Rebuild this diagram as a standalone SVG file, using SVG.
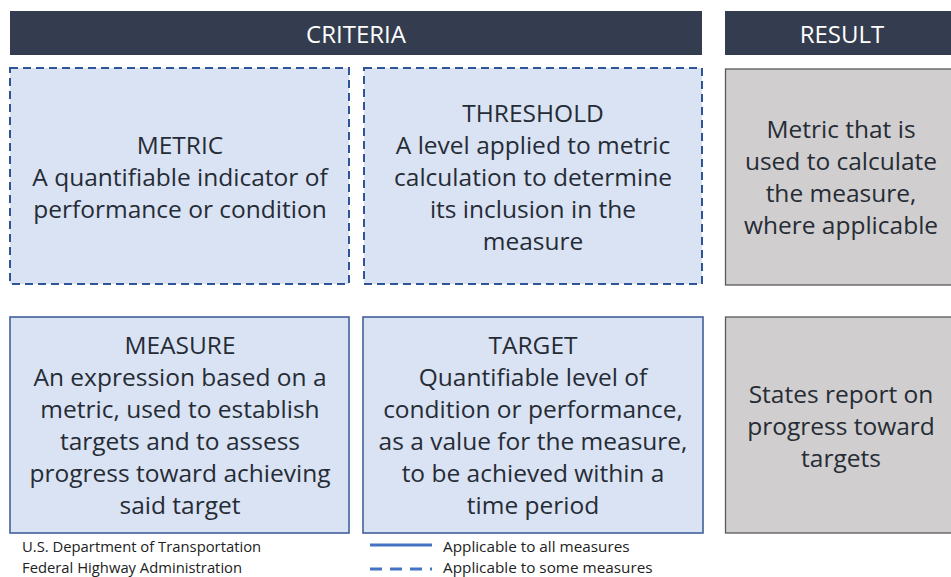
<svg xmlns="http://www.w3.org/2000/svg" width="951" height="577" viewBox="0 0 951 577">
<style>
.hdr{fill:#343d4f}
.htxt{font-family:"Open Sans",sans-serif;font-size:24px;fill:#ffffff;text-anchor:middle}
.box{fill:#dae3f3;stroke:#2f5597;stroke-width:2}
.dash{stroke-dasharray:8,5}
.solid{stroke:#41609c;stroke-width:1.6}
.res{fill:#d0cece;stroke:#595959;stroke-width:1.3}
.t{font-family:"Open Sans",sans-serif;font-size:24.5px;fill:#262c36;text-anchor:middle}
.foot{font-family:"Open Sans",sans-serif;font-size:14.8px;fill:#222222}
.leg{font-family:"Open Sans",sans-serif;font-size:15.3px;fill:#222222}
</style>
<g id="header-criteria"><rect class="hdr" x="10" y="11" width="692" height="44"/><text class="htxt" x="356" y="43">CRITERIA</text></g>
<g id="header-result"><rect class="hdr" x="725" y="11" width="230" height="44"/><text class="htxt" x="842" y="43">RESULT</text></g>
<g id="metric"><rect class="box dash" x="10" y="68" width="339" height="216"/>
<text class="t"><tspan x="180" y="154">METRIC</tspan><tspan x="180" y="186">A quantifiable indicator of</tspan><tspan x="180" y="218">performance or condition</tspan></text></g>
<g id="threshold"><rect class="box dash" x="364" y="68" width="338" height="216"/>
<text class="t"><tspan x="533" y="122">THRESHOLD</tspan><tspan x="533" y="154">A level applied to metric</tspan><tspan x="533" y="186">calculation to determine</tspan><tspan x="533" y="218">its inclusion in the</tspan><tspan x="533" y="250">measure</tspan></text></g>
<g id="result1"><rect class="res" x="725.5" y="69" width="230" height="216"/>
<text class="t"><tspan x="841" y="138">Metric that is</tspan><tspan x="841" y="170">used to calculate</tspan><tspan x="841" y="202">the measure,</tspan><tspan x="841" y="234">where applicable</tspan></text></g>
<g id="measure"><rect class="box solid" x="10" y="317" width="339" height="216"/>
<text class="t"><tspan x="180" y="354">MEASURE</tspan><tspan x="180" y="386">An expression based on a</tspan><tspan x="180" y="418">metric, used to establish</tspan><tspan x="180" y="450">targets and to assess</tspan><tspan x="180" y="482">progress toward achieving</tspan><tspan x="180" y="514">said target</tspan></text></g>
<g id="target"><rect class="box solid" x="363" y="317" width="340" height="216"/>
<text class="t"><tspan x="533" y="354">TARGET</tspan><tspan x="533" y="386">Quantifiable level of</tspan><tspan x="533" y="418">condition or performance,</tspan><tspan x="533" y="450">as a value for the measure,</tspan><tspan x="533" y="482">to be achieved within a</tspan><tspan x="533" y="514">time period</tspan></text></g>
<g id="result2"><rect class="res" x="725.5" y="317" width="230" height="216"/>
<text class="t"><tspan x="841" y="403">States report on</tspan><tspan x="841" y="435">progress toward</tspan><tspan x="841" y="467">targets</tspan></text></g>
<g id="footer"><text class="foot" x="22" y="552">U.S. Department of Transportation</text><text class="foot" x="22" y="573">Federal Highway Administration</text></g>
<g id="legend">
<line x1="370" y1="545" x2="432" y2="545" stroke="#4472c4" stroke-width="3"/>
<line x1="370" y1="569" x2="432" y2="569" stroke="#4472c4" stroke-width="3" stroke-dasharray="12,8"/>
<text class="leg" x="443" y="552">Applicable to all measures</text>
<text class="leg" x="443" y="573">Applicable to some measures</text>
</g>
</svg>
